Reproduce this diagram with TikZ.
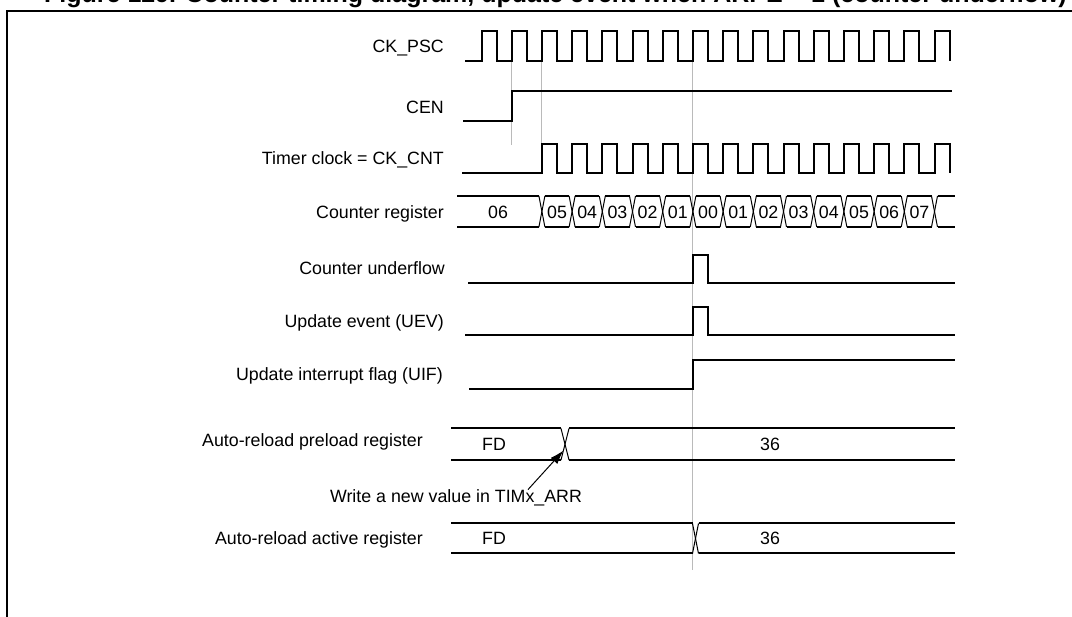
\documentclass[tikz,border=0pt]{standalone}
\usepackage{fontspec}
\setmainfont{Liberation Sans}
\usetikzlibrary{arrows.meta}
\begin{document}
\begin{tikzpicture}[x=1pt,y=-1pt,
  sig/.style={line width=2pt},
  thin/.style={line width=1pt},
  guide/.style={draw=black!27, line width=0.9pt},
  lbl/.style={anchor=base east, inner sep=0pt, font=\fontsize{17.8}{20}\selectfont},
  val/.style={anchor=base, inner sep=0pt, font=\fontsize{17.8}{20}\selectfont},
  frame/.style={line width=2.2pt},
  ttl/.style={anchor=base east, inner sep=0pt, overlay, font=\fontsize{25}{30}\selectfont\bfseries}]
\useasboundingbox (0,0) rectangle (1072,617);
% title (cut by the top edge)
\begin{scope}
\clip (0,0) rectangle (1072,617);
\node[ttl] (title) at (1067,2.5) {Figure 129. Counter timing diagram, update event when ARPE = 1 (counter underflow)};
\end{scope}
% frame
\draw[frame] (7,620) -- (7,11) -- (1075,11);
% guide lines
\draw[guide] ({481.5+30.2},62) -- ({481.5+30.2},145);
\draw[guide] ({481.5+60.4},62) -- ({481.5+60.4},144);
\draw[guide] ({481.5+211.4},62) -- ({481.5+211.4},570);
% labels
\node[lbl] (lpsc) at (444,52.5) {CK\_PSC};
\node[lbl] (lcen) at (444,113.5) {CEN};
\node[lbl] (lclk) at (444,165) {Timer clock = CK\_CNT};
\node[lbl] (lcnt) at (444,219) {Counter register};
\node[lbl] (luf) at (445,275) {Counter underflow};
\node[lbl] (luev) at (444,327.5) {Update event (UEV)};
\node[lbl] (luif) at (443,380.5) {Update interrupt flag (UIF)};
\node[lbl] (lpre) at (423,447) {Auto-reload preload register};
\node[lbl] (lact) at (423,544.5) {Auto-reload active register};
% CK_PSC
\draw[sig] (465,61.5) \foreach \k in {0,...,15}{
  -- ({481.5+30.2*\k},61.5) -- ({481.5+30.2*\k},31) -- ({496.6+30.2*\k},31) -- ({496.6+30.2*\k},61.5)};
% CEN
\draw[sig] (463,121.5) -- ({481.5+30.2},121.5) -- ({481.5+30.2},91) -- (952,91);
% Timer clock
\draw[sig] (462,173.3) \foreach \k in {2,...,15}{
  -- ({481.5+30.2*\k},173.3) -- ({481.5+30.2*\k},144) -- ({496.6+30.2*\k},144) -- ({496.6+30.2*\k},173.3)};
% Counter register
\draw[sig] (457,196) -- ({481.5+60.4-3},196);
\draw[sig] (457,227) -- ({481.5+60.4-3},227);
\foreach \k in {2,...,14}{
  \draw[sig] ({481.5+30.2*\k+3},196) -- ({481.5+30.2*(\k+1)-3},196);
  \draw[sig] ({481.5+30.2*\k+3},227) -- ({481.5+30.2*(\k+1)-3},227);
}
\draw[sig] ({481.5+30.2*15+3},196) -- (955,196);
\draw[sig] ({481.5+30.2*15+3},227) -- (955,227);
\foreach \k in {2,...,15}{
  \draw[thin] ({481.5+30.2*\k-3},196) -- ({481.5+30.2*\k+3},227);
  \draw[thin] ({481.5+30.2*\k-3},227) -- ({481.5+30.2*\k+3},196);
}
\node[val] (c06) at (498,218.5) {06};
\foreach \v [count=\i from 2] in {05,04,03,02,01,00,01,02,03,04,05,06,07}{
  \node[val] (c\i) at ({481.5+30.2*\i+15.1},218.5) {\v};
}
% Counter underflow
\draw[sig] (468,282.7) -- ({481.5+211.4},282.7) -- ({481.5+211.4},255) -- ({496.6+211.4},255) -- ({496.6+211.4},282.7) -- (955,282.7);
% UEV
\draw[sig] (465,335) -- ({481.5+211.4},335) -- ({481.5+211.4},307) -- ({496.6+211.4},307) -- ({496.6+211.4},335) -- (955,335);
% UIF
\draw[sig] (469,388.7) -- ({481.5+211.4},388.7) -- ({481.5+211.4},360) -- (955,360);
% Auto-reload preload register
\draw[sig] (451,428.5) -- (561,428.5);
\draw[sig] (451,460) -- (561,460);
\draw[thin] (561,428.5) -- (569,460);
\draw[thin] (561,460) -- (569,428.5);
\draw[sig] (569,428.5) -- (955,428.5);
\draw[sig] (569,460) -- (955,460);
\node[val] (pfd) at (494,451) {FD};
\node[val] (p36) at (770,451) {36};
% annotation
\node[val, anchor=center] (wlbl) at (456,498) {Write a new value in TIMx\_ARR};
\coordinate (tip) at (563.5,450.5);
\draw[thin, -{Latex[length=14pt,width=9pt]}] ([xshift=72pt]wlbl.north) -- (tip);
% Auto-reload active register
\draw[sig] (451,523.5) -- (692.5,523.5);
\draw[sig] (451,553.5) -- (692.5,553.5);
\draw[thin] (692.5,523.5) -- (698.5,553.5);
\draw[thin] (692.5,553.5) -- (698.5,523.5);
\draw[sig] (698.5,523.5) -- (955,523.5);
\draw[sig] (698.5,553.5) -- (955,553.5);
\node[val] (afd) at (494,545) {FD};
\node[val] (a36) at (770,545) {36};
\end{tikzpicture}
\end{document}
